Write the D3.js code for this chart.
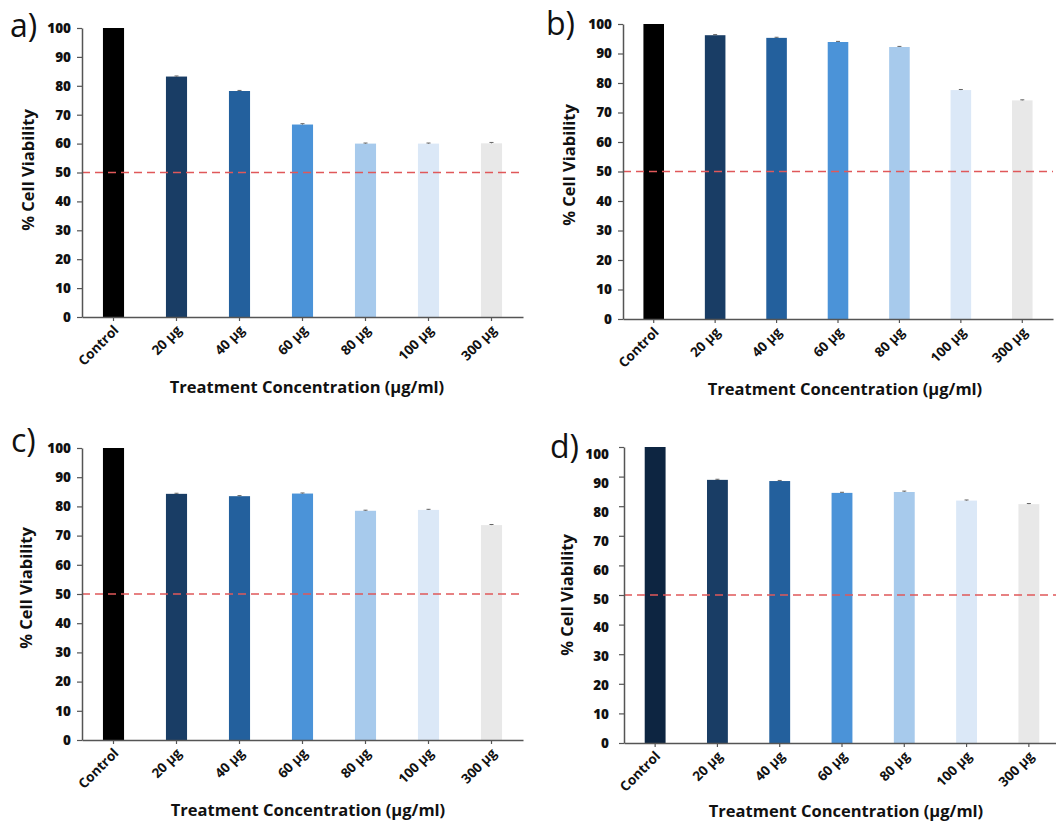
<!DOCTYPE html>
<html>
<head>
<meta charset="utf-8">
<script src="https://cdn.jsdelivr.net/npm/d3@7"></script>
<style>
  html, body { margin: 0; padding: 0; background: #fff; }
  svg { display: block; }
  .tick text { font-family: "Open Sans", Lato, sans-serif; font-weight: 800; fill: #111; }
</style>
</head>
<body>
<svg id="chart" width="1056" height="822"></svg>
<script>
// ---------- data ----------
const categories = ["Control", "20 µg", "40 µg", "60 µg", "80 µg", "100 µg", "300 µg"];
const yTicks = [0, 10, 20, 30, 40, 50, 60, 70, 80, 90, 100];
const valuesA = [100, 83.2, 78.2, 66.6, 60.0, 60.0, 60.1];
const valuesB = [100, 96.2, 95.3, 93.9, 92.2, 77.6, 74.1];
const valuesC = [100, 84.3, 83.5, 84.4, 78.5, 78.8, 73.6];
const valuesD = [100, 88.9, 88.5, 84.5, 84.8, 81.9, 80.7];
const errA = [0, 0.2, 0.2, 0.3, 0.2, 0.2, 0.3];
const errB = [0, 0.2, 0.2, 0.2, 0.2, 0.2, 0.2];
const errC = [0, 0.2, 0.2, 0.2, 0.2, 0.2, 0.2];
const errD = [0, 0.2, 0.2, 0.2, 0.3, 0.2, 0.2];
const thresholdValue = 50;
const panelLabels = ["a)", "b)", "c)", "d)"];
const colorsABC = ["#000000", "#193d65", "#23609d", "#4b93d8", "#a7caec", "#dbe8f7", "#e8e8e8"];
const colorsD   = ["#0d2541", "#193d65", "#23609d", "#4b93d8", "#a7caec", "#dbe8f7", "#e8e8e8"];
const xTitle = "Treatment Concentration (µg/ml)";
const yTitle = "% Cell Viability";

// ---------- layout ----------
const panels = [
  { label: panelLabels[0], values: valuesA, err: errA, colors: colorsABC,
    ax: 82, axEnd: 523, y0: 317, y100: 28, lab: [10, 37], yt: [28, 170], xt: [307, 393], labShift: 0 },
  { label: panelLabels[1], values: valuesB, err: errB, colors: colorsABC,
    ax: 623, axEnd: 1053, y0: 319, y100: 24, lab: [546, 35], yt: [569, 165], xt: [845, 395], labShift: 0 },
  { label: panelLabels[2], values: valuesC, err: errC, colors: colorsABC,
    ax: 82, axEnd: 523, y0: 740, y100: 448, lab: [11, 452], yt: [26, 588], xt: [308, 816], labShift: 0 },
  { label: panelLabels[3], values: valuesD, err: errD, colors: colorsD,
    ax: 624, axEnd: 1060, y0: 743, y100: 447, lab: [550, 458], yt: [567, 595], xt: [846, 817], labShift: 7.5 }
];

const svg = d3.select("#chart");

panels.forEach(p => {
  const g = svg.append("g");
  const x = d3.scaleBand().domain(categories).range([p.ax, p.axEnd])
    .paddingInner(0.665).paddingOuter(0.3325);
  const y = d3.scaleLinear().domain([0, 100]).range([p.y0, p.y100]);

  // bars
  g.selectAll("rect.bar").data(categories).join("rect")
    .attr("class", "bar")
    .attr("x", d => x(d))
    .attr("width", x.bandwidth())
    .attr("y", (d, i) => y(p.values[i]))
    .attr("height", (d, i) => y(0) - y(p.values[i]))
    .attr("fill", (d, i) => p.colors[i]);

  // error bars
  const eg = g.selectAll("g.err").data(categories).join("g").attr("class", "err");
  eg.append("line")
    .attr("x1", d => x(d) + x.bandwidth() / 2).attr("x2", d => x(d) + x.bandwidth() / 2)
    .attr("y1", (d, i) => y(p.values[i] + p.err[i])).attr("y2", (d, i) => y(p.values[i]))
    .attr("stroke", "#666").attr("stroke-width", 1);
  eg.append("line")
    .attr("x1", d => x(d) + x.bandwidth() / 2 - 2).attr("x2", d => x(d) + x.bandwidth() / 2 + 2)
    .attr("y1", (d, i) => y(p.values[i] + p.err[i])).attr("y2", (d, i) => y(p.values[i] + p.err[i]))
    .attr("stroke", "#666").attr("stroke-width", 1)
    .attr("opacity", (d, i) => p.err[i] > 0 ? 1 : 0);

  // threshold line
  g.append("line")
    .attr("x1", p.ax).attr("x2", p.axEnd)
    .attr("y1", y(thresholdValue)).attr("y2", y(thresholdValue))
    .attr("stroke", "#e0585a").attr("stroke-width", 1.6)
    .attr("stroke-dasharray", "8,5");

  // y axis
  const yAxis = g.append("g").attr("transform", `translate(${p.ax},0)`)
    .call(d3.axisLeft(y).tickValues(yTicks).tickSize(5).tickSizeOuter(0).tickPadding(6));
  yAxis.select(".domain").attr("stroke", "#555").attr("stroke-width", 1.5);
  yAxis.selectAll(".tick line").attr("stroke", "#555").attr("stroke-width", 1.2);
  yAxis.selectAll(".tick text").style("font-size", "13.5px")
    .attr("transform", d => `translate(${p.labShift ? -4 : 0},${p.labShift * d / 100})`);

  // x axis
  const xAxis = g.append("g").attr("transform", `translate(0,${p.y0})`)
    .call(d3.axisBottom(x).tickSize(4).tickSizeOuter(0));
  xAxis.select(".domain").attr("stroke", "#555").attr("stroke-width", 1.5);
  xAxis.selectAll(".tick line").attr("stroke", "#555").attr("stroke-width", 1.2);
  xAxis.selectAll(".tick text")
    .style("font-size", "13.5px").style("font-weight", 700)
    .attr("text-anchor", "end")
    .attr("dy", null).attr("y", 0).attr("x", 0)
    .attr("transform", "translate(6,14) rotate(-45)");

  // panel label
  g.append("text").attr("x", p.lab[0]).attr("y", p.lab[1])
    .style("font-family", "'Open Sans', sans-serif").style("font-size", "32px")
    .attr("fill", "#111").text(p.label);

  // y title
  g.append("text")
    .attr("transform", `translate(${p.yt[0]},${p.yt[1]}) rotate(-90)`)
    .attr("text-anchor", "middle").attr("dy", "0.35em")
    .style("font-family", "'Open Sans', Lato, sans-serif").style("font-weight", 700)
    .style("font-size", "16.5px").attr("fill", "#111").text(yTitle);

  // x title
  g.append("text").attr("x", p.xt[0]).attr("y", p.xt[1])
    .attr("text-anchor", "middle")
    .style("font-family", "'Open Sans', Lato, sans-serif").style("font-weight", 700)
    .style("font-size", "16.5px").attr("fill", "#111").text(xTitle);
});
</script>
</body>
</html>
